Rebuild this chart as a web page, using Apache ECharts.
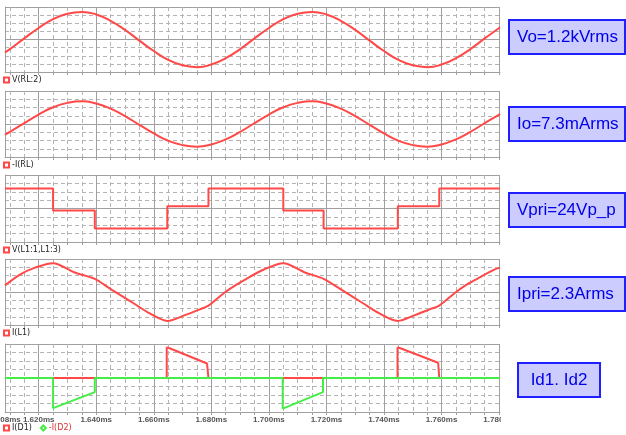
<!DOCTYPE html>
<html><head><meta charset="utf-8">
<script src="https://cdn.jsdelivr.net/npm/echarts@6/dist/echarts.min.js"></script>
<style>html,body{margin:0;padding:0;background:#fff}#c{width:626px;height:435px}</style>
</head><body><div id="c"></div>
<script>
// ---- data (time in microseconds) ----
const timeMin = 1608.3, timeMax = 1780.3;
const majorTicks = [1620,1640,1660,1680,1700,1720,1740,1760,1780];
const fineTicks = [1610,1615,1620,1625,1630,1635,1640,1645,1650,1655,1660,1665,1670,1675,1680,1685,1690,1695,1700,1705,1710,1715,1720,1725,1730,1735,1740,1745,1750,1755,1760,1765,1770,1775,1780];

const sineTime = [1608.3,1610,1615,1620,1625,1630,1635,1640,1645,1650,1655,1660,1665,1670,1675,1680,1685,1690,1695,1700,1705,1710,1715,1720,1725,1730,1735,1740,1745,1750,1755,1760,1765,1770,1775,1780,1780.3];
const voKV = [-0.80,-0.59,0.07,0.71,1.25,1.59,1.70,1.54,1.15,0.59,-0.07,-0.71,-1.25,-1.59,-1.70,-1.54,-1.15,-0.59,0.07,0.71,1.25,1.59,1.70,1.54,1.15,0.59,-0.07,-0.71,-1.25,-1.59,-1.70,-1.54,-1.15,-0.59,0.07,0.71,0.75];
const ioMA = [-4.8,-3.6,0.4,4.3,7.6,9.6,10.3,9.3,7.0,3.6,-0.4,-4.3,-7.6,-9.6,-10.3,-9.3,-7.0,-3.6,0.4,4.3,7.6,9.6,10.3,9.3,7.0,3.6,-0.4,-4.3,-7.6,-9.6,-10.3,-9.3,-7.0,-3.6,0.4,4.3,4.6];

const vpriTime = [1608.3,1625.0,1625.0,1639.5,1639.5,1664.7,1664.7,1679.0,1679.0,1705.0,1705.0,1719.0,1719.0,1744.8,1744.8,1759.2,1759.2,1780.3];
const vpriV    = [12,12,-1.2,-1.2,-12,-12,1.3,1.3,12,12,-1.2,-1.2,-12,-12,1.3,1.3,12,12];

const ipriTime = [1608.3,1613.5,1618.7,1625.0,1632.3,1639.5,1644.8,1652.7,1658.6,1664.7,1670.8,1676.0,1679.0,1684.3,1688.3,1692.2,1698.1,1705.0,1712.3,1719.0,1724.6,1732.4,1738.4,1744.8,1750.7,1755.9,1759.2,1764.5,1768.3,1772.4,1778.3,1780.3];
const ipriA    = [0.8,2.1,2.95,3.5,2.4,1.6,0.4,-1.3,-2.6,-3.5,-2.8,-2.1,-1.65,-0.15,0.8,1.6,2.7,3.5,2.4,1.6,0.4,-1.3,-2.6,-3.5,-2.8,-2.1,-1.65,-0.15,0.8,1.6,2.7,2.95];

const id1Time = [1608.3,1664.5,1664.5,1665.5,1678.5,1679.0,1744.7,1744.7,1745.7,1758.8,1759.2,1780.3];
const id1MA   = [0,0,36,35,17,0,0,36,35,18,0,0];
const id2Time = [1608.3,1625.0,1625.0,1639.5,1639.5,1704.8,1704.8,1718.8,1718.8,1780.3];
const id2MA   = [0,0,-35.5,-16.6,0,0,-36,-16.6,0,0];

const traceNames = ['V(RL:2)','-I(RL)','V(L1:1,L1:3)','I(L1)','I(D1)','-I(D2)'];
const boxTexts = ['Vo=1.2kVrms','Io=7.3mArms','Vpri=24Vp_p','Ipri=2.3Arms','Id1. Id2'];

// ---- layout ----
const RED = '#ff4848', GREEN = '#44ee44';
const panels = [
  {top:7,   height:65, min:-2,  max:2,  interval:2},
  {top:91,  height:66, min:-15, max:15, interval:15},
  {top:175, height:67, min:-20, max:20, interval:20},
  {top:259, height:66, min:-4,  max:4,  interval:4},
  {top:344, height:68, min:-40, max:40, interval:40}
];
const legendTops = [76,161,246,329,424];
const boxes = [
  {x:509,y:20,w:116,h:34},
  {x:509,y:107,w:116,h:34},
  {x:509,y:193,w:116,h:34},
  {x:509,y:277,w:116,h:34},
  {x:518,y:363,w:82,h:34}
];

const grids = [], xAxes = [], yAxes = [];
panels.forEach((p,i)=>{
  grids.push({left:5, width:495, top:p.top, height:p.height, containLabel:false, outerBoundsMode:'none'});
  xAxes.push({type:'value', gridIndex:i, min:timeMin, max:timeMax, position:'bottom',
    axisLine:{show:true, onZero:false, lineStyle:{color:'#a0a0a0'}},
    axisTick:{show:true, inside:false, length:3, lineStyle:{color:'#a0a0a0'}, customValues:fineTicks},
    axisLabel:{show:i===4, showMinLabel:true, hideOverlap:false, customValues:[timeMin].concat(majorTicks), fontSize:8, fontWeight:'bold', color:'#555', margin:4,
      fontFamily:'"Liberation Sans", Arial, sans-serif', formatter:v=>(v/1000).toFixed(3)+'ms'},
    splitLine:{show:true, lineStyle:{color:'#b4b4b4', width:1, type:[4,3]}}});
  xAxes.push({type:'value', gridIndex:i, min:timeMin, max:timeMax, position:'top',
    axisLine:{show:false, onZero:false},
    axisTick:{show:false, customValues:[timeMin].concat(majorTicks)},
    axisLabel:{show:false, customValues:majorTicks},
    splitLine:{show:true, lineStyle:{color:'#a0a0a0', width:1}}});
  yAxes.push({type:'value', gridIndex:i, min:p.min, max:p.max, interval:p.interval,
    axisLine:{show:true, onZero:false, lineStyle:{color:'#a0a0a0'}}, axisTick:{show:false}, axisLabel:{show:false},
    splitLine:{show:true, lineStyle:{color:'#a0a0a0'}},
    minorTick:{show:false, splitNumber:4},
    minorSplitLine:{show:true, lineStyle:{color:'#b4b4b4', type:[4,3]}}});
});

const pairs = (t,v)=>t.map((x,i)=>[x,v[i]]);
function lineSeries(name, idx, data, color, smooth, symbol){
  return {name, type:'line', xAxisIndex:idx*2, yAxisIndex:idx, data, smooth:smooth,
    showSymbol:false, symbol:symbol, symbolSize:5, animation:false,
    lineStyle:{color, width:2}, itemStyle:{color:'#fff', borderColor:color, borderWidth:1}};
}
const series = [
  lineSeries(traceNames[0],0,pairs(sineTime,voKV),RED,true,'rect'),
  lineSeries(traceNames[1],1,pairs(sineTime,ioMA),RED,true,'rect'),
  lineSeries(traceNames[2],2,pairs(vpriTime,vpriV),RED,false,'rect'),
  lineSeries(traceNames[3],3,pairs(ipriTime,ipriA),RED,0.3,'rect'),
  lineSeries(traceNames[4],4,pairs(id1Time,id1MA),RED,false,'rect'),
  lineSeries(traceNames[5],4,pairs(id2Time,id2MA),GREEN,false,'diamond')
];

const legendCommon = {left:3, itemWidth:5, itemHeight:5, itemGap:8, padding:0,
  textStyle:{fontSize:8, color:'#222', fontFamily:'DejaVu Sans', padding:[0,0,0,-2]}};
const legends = [
  Object.assign({}, legendCommon, {top:legendTops[0], data:[{name:traceNames[0], icon:'rect'}]}),
  Object.assign({}, legendCommon, {top:legendTops[1], data:[{name:traceNames[1], icon:'rect'}]}),
  Object.assign({}, legendCommon, {top:legendTops[2], data:[{name:traceNames[2], icon:'rect'}]}),
  Object.assign({}, legendCommon, {top:legendTops[3], data:[{name:traceNames[3], icon:'rect'}]}),
  Object.assign({}, legendCommon, {top:legendTops[4], data:[{name:traceNames[4], icon:'rect'},{name:traceNames[5], icon:'diamond', textStyle:{color:'#e03030'}}]})
];

const graphics = [{type:'rect', z:100, shape:{x:501,y:412,width:125,height:23}, style:{fill:'#fff'}}];
boxes.forEach((b,i)=>{
  graphics.push({type:'rect', z:101, shape:{x:b.x,y:b.y,width:b.w,height:b.h}, style:{fill:'#ccccff', stroke:'#1f1fff', lineWidth:2}});
  graphics.push({type:'text', z:102, x: i===4 ? b.x+b.w/2 : b.x+8, y:b.y+b.h/2,
    style:{text:boxTexts[i], fill:'#0000e6', font:'17px "Liberation Sans", Arial, sans-serif',
      textAlign: i===4?'center':'left', textVerticalAlign:'middle', verticalAlign:'middle'}});
});

const chart = echarts.init(document.getElementById('c'), null, {renderer:'canvas'});
chart.setOption({animation:false, grid:grids, xAxis:xAxes, yAxis:yAxes, series, legend:legends, graphic:graphics});
</script></body></html>
